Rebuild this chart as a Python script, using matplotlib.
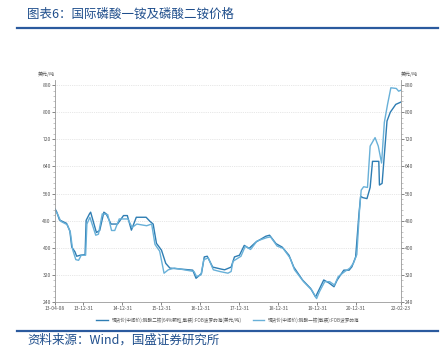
import pandas as pd
import matplotlib
matplotlib.use('Agg')
import matplotlib.pyplot as plt
import matplotlib.dates as mdates
from matplotlib.ticker import MultipleLocator

plt.rcParams['font.family'] = ['Noto Sans CJK SC', 'DejaVu Sans']

# 磷酸二铵 FOB 波罗的海 (美元/吨)
dap_dates = ['2013-04-08', '2013-04-25', '2013-05-20', '2013-07-25', '2013-08-25', '2013-09-12',
             '2013-10-12', '2013-10-28', '2013-12-01', '2014-01-15', '2014-01-25', '2014-02-25',
             '2014-03-08', '2014-05-01', '2014-06-01', '2014-07-10', '2014-08-01', '2014-09-15',
             '2014-11-15', '2015-01-10', '2015-02-15', '2015-03-25', '2015-05-10', '2015-08-10',
             '2015-09-15', '2015-10-15', '2015-11-15', '2016-01-01', '2016-02-10', '2016-03-20',
             '2016-10-20', '2016-11-20', '2017-01-10', '2017-02-05', '2017-03-05', '2017-04-25',
             '2017-07-15', '2017-08-15', '2017-10-15', '2017-11-15', '2018-01-01', '2018-02-15',
             '2018-04-01', '2018-06-05', '2018-09-05', '2018-10-10', '2018-12-10', '2019-02-05',
             '2019-04-10', '2019-05-25', '2019-08-15', '2019-10-30', '2019-12-15', '2020-01-15',
             '2020-03-01', '2020-04-20', '2020-06-05', '2020-07-05', '2020-09-05', '2020-10-25',
             '2020-11-20', '2020-12-25', '2021-01-25', '2021-02-10', '2021-03-01', '2021-04-10',
             '2021-05-10', '2021-06-01', '2021-07-30', '2021-08-05', '2021-08-30', '2021-10-15',
             '2021-11-15', '2022-01-05', '2022-02-23']
dap_values = [515, 505, 482, 472, 450, 402,
              388, 375, 378, 380, 481, 500,
              505, 445, 451, 505, 500, 470,
              470, 495, 495, 452, 490, 490,
              478, 470, 413, 393, 354, 340,
              334, 310, 324, 373, 375, 343,
              337, 335, 343, 373, 378, 407,
              398, 417, 434, 437, 412, 402,
              378, 343, 305, 280, 255, 275,
              305, 296, 285, 305, 334, 334,
              344, 373, 500, 552, 548, 545,
              578, 655, 655, 585, 590, 774,
              800, 823, 830]

# 磷酸一铵 FOB 波罗的海 (美元/吨)
map_dates = ['2013-04-08', '2013-05-01', '2013-06-01', '2013-08-01', '2013-08-30', '2013-09-20',
             '2013-10-20', '2013-11-15', '2013-12-10', '2014-01-20', '2014-02-01', '2014-03-01',
             '2014-04-25', '2014-05-20', '2014-06-25', '2014-08-15', '2014-09-20', '2014-10-20',
             '2014-12-01', '2015-02-20', '2015-04-01', '2015-05-15', '2015-08-15', '2015-10-01',
             '2015-11-01', '2015-12-15', '2016-01-25', '2016-03-05', '2016-05-01', '2016-11-01',
             '2016-11-25', '2017-01-05', '2017-02-01', '2017-03-15', '2017-05-01', '2017-07-01',
             '2017-09-15', '2017-10-15', '2017-11-01', '2018-01-15', '2018-02-25', '2018-04-15',
             '2018-06-15', '2018-09-15', '2018-10-20', '2018-12-20', '2019-02-15', '2019-04-20',
             '2019-06-01', '2019-08-25', '2019-11-10', '2019-12-25', '2020-01-20', '2020-03-10',
             '2020-04-25', '2020-06-10', '2020-07-15', '2020-09-15', '2020-11-01', '2020-12-05',
             '2021-01-05', '2021-01-30', '2021-02-15', '2021-03-10', '2021-04-15', '2021-05-10',
             '2021-06-25', '2021-07-25', '2021-08-25', '2021-09-20', '2021-10-20', '2021-11-20',
             '2022-01-10', '2022-02-01', '2022-02-23']
map_values = [510, 500, 478, 468, 445, 395,
              365, 363, 378, 378, 470, 490,
              437, 440, 500, 498, 451, 451,
              485, 485, 460, 470, 465, 470,
              410, 390, 325, 335, 340, 330,
              315, 320, 365, 370, 335, 330,
              325, 330, 360, 375, 405, 395,
              420, 430, 432, 405, 398, 370,
              335, 300, 275, 250, 270, 300,
              300, 290, 315, 330, 340, 355,
              380, 510, 570, 580, 578, 700,
              725, 700, 650, 770, 823, 872,
              870, 862, 865]

tick_dates = ['2013-04-08', '2013-12-31', '2014-12-31', '2015-12-31', '2016-12-31',
              '2017-12-31', '2018-12-31', '2019-12-31', '2020-12-31', '2022-02-23']

labels = ['现货价(中间价):磷酸二铵(64%颗粒,散装):FOB波罗的海(美元/吨)',
          '现货价(中间价):磷酸一铵(散装):FOB波罗的海']

fig = plt.figure(figsize=(4.45, 3.51), dpi=100)
ax = fig.add_axes([0.1236, 0.1396, 0.7775, 0.6325])

ax.plot(pd.to_datetime(dap_dates), dap_values, color='#2e7db3', lw=1.0, label=labels[0])
ax.plot(pd.to_datetime(map_dates), map_values, color='#68b0d8', lw=1.0, label=labels[1])

ticks = pd.to_datetime(tick_dates)
ax.set_xlim(ticks[0], ticks[-1])
ax.set_xticks(ticks)
ax.set_xticklabels([t.strftime('%y-%m-%d') for t in ticks])
ax.set_ylim(240, 895)
ax.yaxis.set_major_locator(MultipleLocator(80))
ax.yaxis.set_minor_locator(MultipleLocator(16))
ax.set_yticks(range(240, 881, 80))

for s in ['top']:
    ax.spines[s].set_visible(False)
for s in ['left', 'right', 'bottom']:
    ax.spines[s].set_color('#999999')
    ax.spines[s].set_linewidth(0.6)

ax.tick_params(axis='both', labelsize=3.6, colors='#555555', length=2, width=0.5, pad=1)
ax.tick_params(axis='y', which='minor', length=1.2, width=0.4, colors='#999999')
ax.tick_params(axis='y', which='both', right=True, labelright=True)
ax.grid(axis='y', linestyle=':', color='#d0d0d0', lw=0.5)

ax.text(0.0, 1.015, '美元/吨', transform=ax.transAxes, ha='right', va='bottom',
        fontsize=3.6, color='#555555')
ax.text(1.0, 1.015, '美元/吨', transform=ax.transAxes, ha='left', va='bottom',
        fontsize=3.6, color='#555555')

ax.legend(loc='upper center', bbox_to_anchor=(0.5, -0.05), ncol=2, frameon=False,
          fontsize=3.3, handlelength=2.5, columnspacing=2.5, labelcolor='#555555')

fig.text(27 / 445, 1 - 14 / 351, '图表6：国际磷酸一铵及磷酸二铵价格', ha='left', va='center',
         fontsize=9, color='#1f4e8c')
fig.text(27 / 445, 1 - 340 / 351, '资料来源：Wind，国盛证券研究所', ha='left', va='center',
         fontsize=9, color='#1f4e8c')
fig.add_artist(plt.Line2D([17 / 445, 438 / 445], [1 - 28 / 351, 1 - 28 / 351],
                          color='#2b5a9e', lw=1.6))
fig.add_artist(plt.Line2D([17 / 445, 438 / 445], [1 - 331 / 351, 1 - 331 / 351],
                          color='#2b5a9e', lw=1.6))

fig.savefig('out.png', dpi=100)
